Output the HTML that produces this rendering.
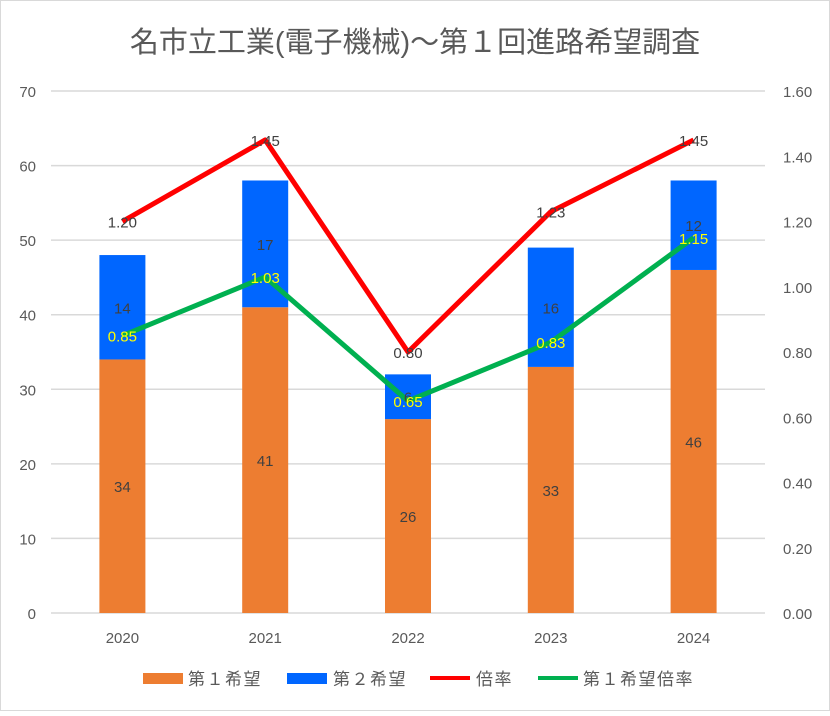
<!DOCTYPE html>
<html><head><meta charset="utf-8">
<style>
body{margin:0;background:#fff;}
svg text{font-family:"Liberation Sans","Noto Sans CJK JP",sans-serif;}
</style></head>
<body>
<svg id="chart" width="830" height="711" xmlns="http://www.w3.org/2000/svg">
<rect x="0.5" y="0.5" width="829" height="710" fill="#fff" stroke="#d9d9d9"/>
<text x="415" y="52" text-anchor="middle" font-size="29" fill="#595959">名市立工業(電子機械)～第１回進路希望調査</text>
<g id="grid"></g><g id="bars"></g><g id="lines"></g><g id="labels"></g>
<g>
<rect x="143" y="673" width="40" height="11" fill="#ed7d31"/>
<text x="188" y="685" font-size="17" letter-spacing="1.5" fill="#595959">第１希望</text>
<rect x="287" y="673" width="40" height="11" fill="#0066ff"/>
<text x="333" y="685" font-size="17" letter-spacing="1.5" fill="#595959">第２希望</text>
<line x1="430" y1="678" x2="470" y2="678" stroke="#ff0000" stroke-width="4"/>
<text x="476" y="685" font-size="17" letter-spacing="1.5" fill="#595959">倍率</text>
<line x1="538" y1="678" x2="578" y2="678" stroke="#00b050" stroke-width="4"/>
<text x="583" y="685" font-size="17" letter-spacing="1.5" fill="#595959">第１希望倍率</text>
</g>
</svg>
<script>
const categories=["2020","2021","2022","2023","2024"];
const firstChoice=[34,41,26,33,46];
const secondChoice=[14,17,6,16,12];
const ratio=[1.20,1.45,0.80,1.23,1.45];
const firstRatio=[0.85,1.03,0.65,0.83,1.15];
const leftTicks=[0,10,20,30,40,50,60,70];
const rightTicks=[0,0.2,0.4,0.6,0.8,1.0,1.2,1.4,1.6];

const NS="http://www.w3.org/2000/svg";
const X0=51,X1=765,Y0=613,Y1=91;
const band=(X1-X0)/categories.length;
const xc=i=>X0+band*(i+0.5);
const yL=v=>Y0-(v/70)*(Y0-Y1);
const yR=v=>Y0-(v/1.6)*(Y0-Y1);
function mk(tag,attrs,parent,txt){const e=document.createElementNS(NS,tag);for(const k in attrs)e.setAttribute(k,attrs[k]);if(txt!==undefined)e.textContent=txt;parent.appendChild(e);return e;}
const grid=document.getElementById('grid'),bars=document.getElementById('bars'),lines=document.getElementById('lines'),labels=document.getElementById('labels');
leftTicks.forEach(t=>{
  const l=mk('line',{x1:X0,x2:X1,y1:yL(t),y2:yL(t),stroke:'#d9d9d9','stroke-width':1.5},grid);
  
  
  const tx=mk('text',{x:36,y:yL(t)+6,'text-anchor':'end','font-size':15,fill:'#595959'},grid,String(t));
  
  
});
rightTicks.forEach(t=>{
  const tx=mk('text',{x:783,y:yR(t)+6,'font-size':15,fill:'#595959'},grid,t.toFixed(2));
  
  
});
const bw=46;
categories.forEach((c,i)=>{
  const x=xc(i);
  const b1=mk('rect',{x:x-bw/2,y:yL(firstChoice[i]),width:bw,height:Y0-yL(firstChoice[i]),fill:'#ed7d31'},bars);
  
  
  const tot=firstChoice[i]+secondChoice[i];
  const b2=mk('rect',{x:x-bw/2,y:yL(tot),width:bw,height:yL(firstChoice[i])-yL(tot),fill:'#0066ff'},bars);
  
  
  const t1=mk('text',{x:x,y:(yL(firstChoice[i])+Y0)/2+6,'text-anchor':'middle','font-size':15,fill:'#404040'},labels,String(firstChoice[i]));
  
  
  const t2=mk('text',{x:x,y:(yL(firstChoice[i])+yL(tot))/2+6,'text-anchor':'middle','font-size':15,fill:'#404040'},labels,String(secondChoice[i]));
  
  
  const xl=mk('text',{x:x,y:643,'text-anchor':'middle','font-size':15,fill:'#595959'},grid,c);
  
  
});
function series(vals,color,name,textColor){
  const p=mk('polyline',{points:vals.map((v,i)=>xc(i)+','+yR(v)).join(' '),fill:'none',stroke:color,'stroke-width':5,'stroke-linejoin':'round'},lines);
  
  
  vals.forEach((v,i)=>{
    const t=mk('text',{x:xc(i),y:yR(v)+6,'text-anchor':'middle','font-size':15,fill:textColor},labels,v.toFixed(2));
    
    
  });
}
series(ratio,'#ff0000','ratio','#404040');
series(firstRatio,'#00b050','first-ratio','#ffff00');
</script>
</body></html>
